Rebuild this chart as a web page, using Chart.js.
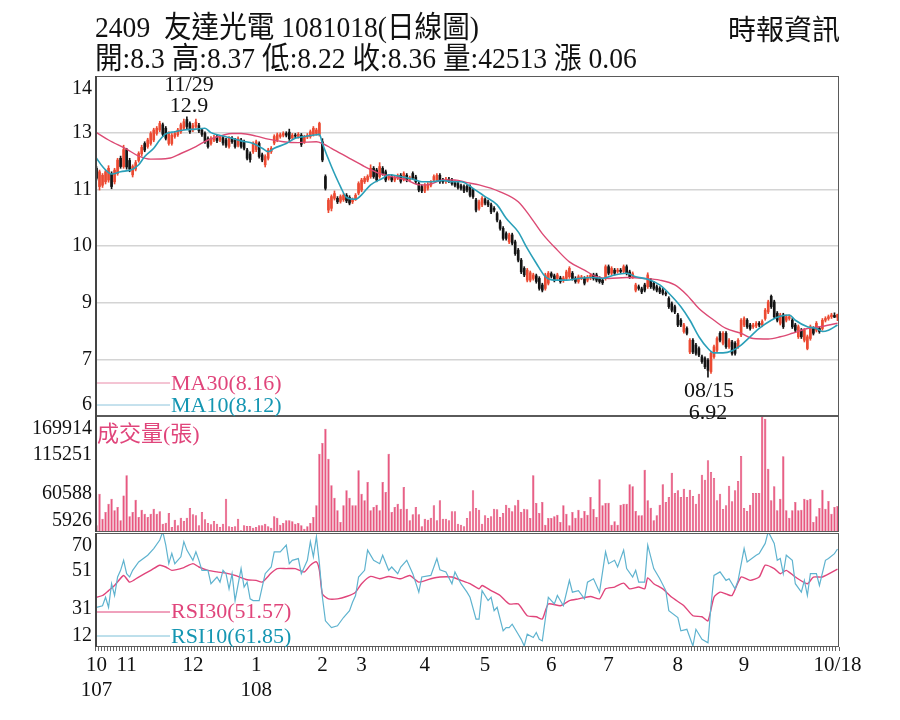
<!DOCTYPE html>
<html lang="zh-Hant">
<head>
<meta charset="UTF-8">
<script src="https://cdn.jsdelivr.net/npm/chart.js"></script>
<title>2409 友達光電 日線圖</title>
<style>
  body { margin: 0; background: #fff; }
  #page { position: relative; width: 900px; height: 720px; overflow: hidden; }
  canvas { position: absolute; left: 0; }
  #overlay { position: absolute; left: 0; top: 0; width: 900px; height: 720px; pointer-events: none; }
  #overlay text { font-family: 'Liberation Serif', 'Noto Sans CJK TC', serif; }
</style>
</head>
<body>
<div id="page">
  <canvas id="priceChart" width="900" height="340" style="top:76px;width:900px;height:340px"></canvas>
  <canvas id="volChart" width="900" height="116" style="top:416px;width:900px;height:116px"></canvas>
  <canvas id="rsiChart" width="900" height="187" style="top:533px;width:900px;height:187px"></canvas>

  <svg id="overlay" xmlns="http://www.w3.org/2000/svg" width="900" height="720">
    <g transform="translate(95,0) scale(0.92,1)">
      <text x="0" y="37" font-size="30" fill="#111" xml:space="preserve">2409  友達光電 1081018(日線圖)</text>
      <text x="0" y="68" font-size="30" fill="#111">開:8.3 高:8.37 低:8.22 收:8.36 量:42513 漲 0.06</text>
    </g>
    <text x="728" y="40" font-size="28" fill="#111">時報資訊</text>

    <text x="189" y="91" font-size="22" fill="#111" text-anchor="middle">11/29</text>
    <text x="189" y="112" font-size="22" fill="#111" text-anchor="middle">12.9</text>
    <text x="709" y="397" font-size="22" fill="#111" text-anchor="middle">08/15</text>
    <text x="708" y="419" font-size="22" fill="#111" text-anchor="middle">6.92</text>

    <line x1="97" y1="383" x2="170" y2="383" stroke="#e98aa8" stroke-width="1"/>
    <text x="171" y="390" font-size="22" fill="#e0457b">MA30(8.16)</text>
    <line x1="97" y1="405" x2="170" y2="405" stroke="#8cc4dc" stroke-width="1"/>
    <text x="171" y="412" font-size="22" fill="#1596b2">MA10(8.12)</text>

    <text x="97" y="441" font-size="22" fill="#e0457b">成交量(張)</text>

    <line x1="97" y1="612" x2="170" y2="612" stroke="#e0457b" stroke-width="1"/>
    <text x="171" y="618" font-size="22" fill="#e0457b">RSI30(51.57)</text>
    <line x1="97" y1="636" x2="170" y2="636" stroke="#7dc0d8" stroke-width="1"/>
    <text x="171" y="643" font-size="22" fill="#1596b2">RSI10(61.85)</text>
  </svg>
</div>

<script>
// trading-day calendar
const months = ['107/10','107/11','107/12','108/01','108/02','108/03','108/04','108/05','108/06','108/07','108/08','108/09','108/10'];
const monthDays = [10, 22, 21, 22, 13, 21, 20, 22, 19, 23, 22, 20, 12];
const monthTickText = ['10','11','12','1','2','3','4','5','6','7','8','9',''];
const yearTickText  = ['107','','','108','','','','','','','','',''];
const lastTickText = '10/18';

// daily OHLC
const opens = [
  11.72,11.30,11.33,11.41,11.45,11.60,11.41,11.60,11.95,11.76,
  12.15,11.90,11.57,11.70,11.90,12.05,12.29,12.22,12.29,12.37,
  12.52,12.60,12.72,12.64,12.29,12.29,12.45,12.49,12.56,12.64,
  12.84,12.75,12.60,12.68,12.70,12.60,12.52,12.40,12.29,12.37,
  12.45,12.37,12.42,12.37,12.22,12.41,12.37,12.25,12.37,12.33,
  12.14,12.05,12.10,12.15,12.29,12.03,11.80,11.95,12.10,12.30,
  12.37,12.45,12.48,12.52,12.55,12.42,12.48,12.45,12.48,12.33,
  12.44,12.45,12.50,12.52,12.50,12.33,11.53,10.76,10.80,11.03,
  11.03,10.96,11.00,11.10,11.05,10.95,11.02,11.15,11.22,11.41,
  11.45,11.53,11.72,11.68,11.53,11.72,11.64,11.49,11.53,11.45,
  11.50,11.56,11.47,11.56,11.45,11.60,11.52,11.37,11.30,11.20,
  11.26,11.33,11.45,11.45,11.56,11.45,11.41,11.47,11.45,11.39,
  11.37,11.32,11.30,11.30,11.30,11.22,10.99,10.80,10.88,11.00,
  10.95,10.88,10.80,10.68,10.49,10.34,10.22,10.03,10.19,10.03,
  9.84,9.61,9.42,9.15,9.15,9.19,9.25,9.19,9.04,8.96,
  9.08,9.30,9.25,9.19,9.20,9.14,9.19,9.23,9.31,9.19,
  9.12,9.20,9.19,9.15,9.20,9.27,9.27,9.19,9.15,9.19,
  9.46,9.31,9.38,9.35,9.38,9.35,9.46,9.34,9.23,8.92,
  9.00,8.95,9.04,9.00,9.15,9.08,9.00,8.96,8.92,8.85,
  8.73,8.61,8.54,8.35,8.23,7.97,8.04,7.50,7.77,7.66,
  7.58,7.39,7.35,7.31,7.05,7.39,7.54,7.93,7.70,7.93,
  7.62,7.73,7.70,7.62,7.89,8.12,8.23,8.12,8.08,8.10,
  8.16,8.12,8.27,8.42,8.78,8.65,8.39,8.16,8.35,8.23,
  8.27,8.23,8.12,7.85,8.00,7.77,7.58,7.81,8.04,8.00,
  8.04,8.04,8.23,8.27,8.31,8.34,8.30
];
const highs = [
  11.76,11.68,11.60,11.68,11.78,11.64,11.72,11.95,12.00,12.25,
  12.18,11.95,11.80,11.90,12.10,12.25,12.33,12.41,12.56,12.64,
  12.68,12.80,12.76,12.68,12.56,12.52,12.56,12.64,12.76,12.85,
  12.90,12.79,12.75,12.85,12.75,12.64,12.56,12.44,12.45,12.48,
  12.49,12.48,12.46,12.41,12.45,12.45,12.41,12.44,12.41,12.37,
  12.18,12.10,12.33,12.37,12.33,12.07,12.03,12.18,12.22,12.49,
  12.53,12.53,12.56,12.56,12.62,12.52,12.52,12.54,12.52,12.48,
  12.52,12.60,12.68,12.64,12.78,12.40,11.57,11.03,11.11,11.20,
  11.07,11.11,11.14,11.14,11.09,11.04,11.14,11.41,11.49,11.53,
  11.57,11.80,11.76,11.72,11.85,11.76,11.68,11.57,11.57,11.55,
  11.59,11.60,11.64,11.60,11.54,11.64,11.56,11.41,11.34,11.37,
  11.39,11.44,11.57,11.60,11.60,11.49,11.51,11.51,11.49,11.43,
  11.41,11.36,11.34,11.34,11.34,11.26,11.03,10.99,11.07,11.04,
  10.99,10.92,10.84,10.72,10.53,10.38,10.26,10.23,10.23,10.07,
  9.88,9.65,9.46,9.42,9.36,9.31,9.29,9.23,9.08,9.31,
  9.35,9.34,9.29,9.31,9.24,9.24,9.38,9.46,9.35,9.23,
  9.27,9.26,9.23,9.26,9.30,9.31,9.31,9.23,9.19,9.50,
  9.50,9.46,9.42,9.42,9.42,9.50,9.50,9.38,9.34,9.08,
  9.04,8.99,9.08,9.32,9.19,9.12,9.04,9.00,8.96,8.89,
  8.77,8.65,8.58,8.39,8.27,8.16,8.08,7.81,7.81,7.70,
  7.62,7.43,7.39,7.35,7.51,7.66,7.85,7.97,7.97,7.97,
  7.81,7.77,7.74,7.81,8.27,8.31,8.27,8.16,8.16,8.20,
  8.20,8.24,8.50,8.69,8.81,8.69,8.43,8.39,8.39,8.35,
  8.35,8.27,8.16,8.12,8.04,8.04,7.89,8.12,8.08,8.20,
  8.08,8.27,8.31,8.35,8.39,8.40,8.37
];
const lows = [
  11.45,11.22,11.28,11.36,11.40,11.25,11.36,11.56,11.72,11.72,
  11.70,11.64,11.52,11.66,11.86,12.00,12.10,12.18,12.25,12.33,
  12.48,12.56,12.45,12.37,12.25,12.25,12.41,12.45,12.52,12.60,
  12.62,12.52,12.56,12.64,12.54,12.45,12.29,12.18,12.25,12.33,
  12.31,12.33,12.25,12.20,12.18,12.29,12.18,12.21,12.18,12.14,
  11.91,11.86,12.06,12.10,11.95,11.87,11.75,11.91,12.06,12.26,
  12.33,12.41,12.44,12.44,12.36,12.38,12.42,12.41,12.22,12.29,
  12.40,12.41,12.46,12.48,12.46,11.87,11.22,10.70,10.74,10.99,
  10.91,10.92,10.96,10.93,10.88,10.91,10.98,11.11,11.18,11.37,
  11.41,11.49,11.49,11.41,11.49,11.56,11.41,11.45,11.41,11.41,
  11.46,11.38,11.43,11.41,11.41,11.46,11.37,11.18,11.16,11.16,
  11.22,11.29,11.41,11.41,11.37,11.37,11.37,11.39,11.33,11.29,
  11.24,11.22,11.16,11.18,11.06,11.03,10.72,10.76,10.84,10.88,
  10.84,10.68,10.72,10.49,10.30,10.07,10.07,9.99,9.96,9.72,
  9.57,9.30,9.23,9.11,9.11,9.15,9.08,8.92,8.88,8.92,
  9.04,9.20,9.11,9.15,9.08,9.10,9.15,9.19,9.15,9.08,
  9.08,9.16,9.04,9.11,9.16,9.15,9.11,9.08,9.05,9.15,
  9.27,9.27,9.27,9.31,9.31,9.31,9.27,9.19,9.19,8.88,
  8.92,8.84,8.88,8.96,8.96,8.92,8.88,8.84,8.81,8.79,
  8.50,8.42,8.38,8.08,8.08,7.93,7.89,7.46,7.46,7.43,
  7.39,7.24,7.12,6.92,7.01,7.35,7.50,7.73,7.66,7.58,
  7.58,7.43,7.43,7.58,7.85,8.08,8.04,8.00,8.04,8.06,
  8.08,8.08,8.23,8.38,8.50,8.27,8.19,8.12,8.04,8.19,
  8.23,8.04,7.96,7.81,7.81,7.73,7.55,7.77,7.89,7.96,
  7.93,8.00,8.19,8.23,8.27,8.29,8.22
];
const closes = [
  11.49,11.64,11.56,11.64,11.72,11.30,11.68,11.91,11.76,12.15,
  11.75,11.70,11.76,11.85,12.06,12.20,12.14,12.37,12.52,12.60,
  12.64,12.75,12.50,12.41,12.52,12.48,12.52,12.60,12.72,12.79,
  12.68,12.56,12.70,12.78,12.58,12.50,12.33,12.22,12.41,12.42,
  12.35,12.44,12.30,12.25,12.41,12.33,12.22,12.40,12.22,12.18,
  11.95,11.92,12.29,12.33,11.99,11.91,11.99,12.14,12.18,12.45,
  12.49,12.49,12.52,12.48,12.40,12.48,12.46,12.50,12.27,12.44,
  12.48,12.56,12.64,12.60,12.75,11.91,11.26,10.99,11.07,11.14,
  10.95,11.07,11.10,10.97,10.92,11.00,11.10,11.37,11.45,11.49,
  11.53,11.72,11.53,11.45,11.76,11.60,11.45,11.53,11.45,11.51,
  11.55,11.42,11.60,11.45,11.50,11.50,11.41,11.22,11.20,11.33,
  11.35,11.40,11.53,11.56,11.41,11.41,11.47,11.43,11.37,11.33,
  11.28,11.26,11.20,11.22,11.10,11.07,10.76,10.95,11.03,10.92,
  10.88,10.72,10.76,10.53,10.34,10.11,10.11,10.19,10.00,9.76,
  9.61,9.34,9.27,9.38,9.32,9.27,9.12,8.96,8.92,9.27,
  9.31,9.24,9.15,9.27,9.12,9.20,9.34,9.42,9.19,9.12,
  9.23,9.22,9.08,9.22,9.26,9.19,9.15,9.12,9.09,9.46,
  9.31,9.42,9.31,9.38,9.35,9.46,9.31,9.23,9.30,9.04,
  8.96,8.88,8.92,9.27,9.00,8.96,8.92,8.88,8.85,8.83,
  8.54,8.46,8.42,8.12,8.12,8.12,7.93,7.77,7.50,7.47,
  7.43,7.28,7.16,7.08,7.47,7.62,7.81,7.77,7.93,7.62,
  7.77,7.47,7.47,7.77,8.23,8.27,8.08,8.04,8.12,8.16,
  8.12,8.20,8.46,8.65,8.54,8.31,8.23,8.35,8.08,8.31,
  8.31,8.08,8.00,8.08,7.85,8.00,7.85,8.08,7.93,8.16,
  7.97,8.23,8.27,8.31,8.35,8.30,8.36
];

// daily volume (張)
const volumes = [
  15300,60100,24800,34200,46000,53000,36600,41300,22400,57700,
  86000,28100,34200,51600,27100,37500,31800,27100,31800,38900,
  31800,35100,17700,19100,32800,13000,23400,15300,26200,21500,
  26200,39900,30900,29500,15300,34200,23800,18600,16800,21500,
  17700,13000,17700,53000,13900,13000,13900,24800,8300,15300,
  14400,14400,12000,13000,15300,15300,17700,13900,12000,28100,
  26200,16300,18600,22400,22400,21000,17700,18600,15300,10600,
  13900,18600,27100,43600,116700,131700,152000,109600,71900,54500,
  36600,20100,43600,64800,54500,43600,43600,93100,60100,50700,
  76600,36600,41300,44600,36600,76600,62500,116700,34200,41300,
  46000,38900,69500,38900,22400,30900,41300,30900,13900,24800,
  23400,26200,43600,22400,50700,24800,24800,22400,35100,35100,
  17700,16300,13900,25700,35100,64800,39900,37500,17700,29500,
  25700,28100,38900,38000,27100,32800,44600,40300,35100,43600,
  51600,34200,38900,38000,25700,86000,46900,32800,48300,16300,
  25700,25700,28100,30400,20100,43600,31800,15300,34200,26200,
  37500,26200,35600,30400,55400,38400,27100,80400,43600,46900,
  47400,16300,21000,16300,44600,46000,46000,73300,70500,35600,
  29500,29500,94000,50700,40300,22400,29500,44600,73300,48300,
  55400,89800,61100,64800,55400,67200,55400,65800,56800,46000,
  60100,87000,79900,107200,90700,82300,50700,60100,38400,43600,
  71400,49300,64800,78000,113400,39900,35600,44600,61100,61100,
  61100,169914,166000,95500,50700,70500,36600,53000,112900,36600,
  26200,36600,48300,36600,37500,53000,51600,53000,20100,28100,
  39900,65800,38900,49700,31800,41300,42513
];

// moving averages, read at [trading day, value]
const ma10Points = [
  [0,11.95],[2,11.76],[5,11.59],[8,11.64],[12,11.70],[14,11.80],[16,11.99],[19,12.18],[21,12.37],[23,12.51],
  [26,12.56],[29,12.60],[33,12.62],[36,12.64],[38,12.54],[42,12.46],[45,12.41],[48,12.35],[52,12.29],[55,12.18],
  [57,12.10],[59,12.18],[63,12.29],[66,12.41],[69,12.45],[73,12.49],[74,12.50],[75,12.29],[78,11.76],[81,11.30],
  [83,11.05],[86,11.01],[88,11.11],[91,11.34],[95,11.49],[97,11.57],[101,11.53],[105,11.47],[108,11.41],[111,11.41],
  [115,11.44],[118,11.41],[121,11.41],[125,11.26],[129,11.07],[133,10.88],[136,10.57],[140,10.26],[143,9.88],[146,9.54],
  [149,9.23],[152,9.15],[156,9.15],[160,9.19],[165,9.21],[168,9.19],[172,9.27],[176,9.31],[179,9.23],[183,9.17],
  [187,9.04],[190,8.85],[194,8.54],[197,8.23],[200,7.85],[203,7.58],[205,7.48],[208,7.48],[211,7.53],[214,7.66],
  [217,7.85],[220,8.04],[224,8.23],[227,8.32],[230,8.35],[232,8.23],[236,8.08],[239,8.04],[241,7.97],[243,8.00],
  [246,8.12]
];
const ma30Points = [
  [0,12.54],[4,12.37],[10,12.16],[14,12.00],[18,11.93],[24,11.95],[28,12.06],[33,12.22],[37,12.37],[42,12.48],
  [45,12.52],[48,12.52],[53,12.46],[57,12.39],[62,12.33],[67,12.31],[73,12.33],[75,12.29],[78,12.18],[84,11.95],
  [89,11.76],[94,11.60],[98,11.53],[103,11.45],[107,11.34],[110,11.34],[115,11.45],[119,11.45],[123,11.39],[127,11.34],
  [134,11.18],[140,10.95],[144,10.61],[148,10.22],[153,9.84],[157,9.57],[162,9.38],[166,9.23],[170,9.19],[176,9.21],
  [182,9.19],[187,9.15],[192,9.04],[196,8.81],[200,8.50],[205,8.23],[209,8.04],[214,7.93],[218,7.81],[223,7.80],
  [227,7.85],[231,7.93],[236,8.04],[240,8.08],[246,8.16]
];

// RSI, read at [trading day, value]
const rsi10Points = [
  [0,32.2],[2,33.0],[3,37.3],[4,32.2],[5,44.2],[6,38.2],[7,47.6],[8,51.0],[9,56.1],[10,49.3],
  [11,47.6],[12,51.0],[14,55.3],[17,58.7],[19,62.1],[21,66.4],[22,70.7],[23,63.8],[24,54.4],[25,59.6],
  [26,54.4],[28,57.9],[29,65.6],[30,61.3],[32,56.1],[33,60.4],[34,56.1],[35,51.0],[37,51.0],[38,44.2],
  [40,47.6],[41,45.0],[42,51.0],[43,49.3],[44,41.6],[45,49.3],[46,35.6],[48,51.9],[49,42.5],[50,45.0],
  [51,36.5],[52,35.6],[54,35.6],[55,42.5],[56,49.3],[58,52.7],[59,60.4],[61,60.4],[63,63.8],[64,54.4],
  [65,56.1],[67,57.0],[68,49.3],[70,56.1],[71,65.6],[72,57.9],[73,68.1],[74,54.4],[75,37.3],[76,25.3],
  [78,21.9],[80,22.8],[82,27.0],[84,30.5],[85,34.8],[86,38.2],[87,47.6],[89,51.0],[90,61.3],[92,56.1],
  [94,54.4],[95,58.7],[97,51.0],[98,52.7],[100,49.3],[101,52.7],[103,56.1],[105,49.3],[107,39.9],[108,47.6],
  [111,48.4],[113,57.0],[114,51.3],[116,50.2],[118,44.2],[119,50.2],[121,44.2],[123,39.9],[124,37.3],[126,26.2],
  [127,26.2],[128,40.7],[130,35.6],[131,37.3],[132,30.5],[133,32.2],[135,20.2],[136,21.9],[137,21.9],[138,23.6],
  [140,18.5],[141,15.9],[142,12.5],[143,18.5],[145,16.8],[146,19.4],[147,15.9],[148,15.1],[150,37.3],[152,33.9],
  [153,38.2],[155,33.0],[157,45.9],[158,39.9],[160,40.7],[162,36.5],[163,45.0],[165,46.7],[167,39.9],[169,60.4],
  [170,54.4],[172,56.1],[173,52.7],[175,61.3],[176,51.9],[178,47.6],[179,51.0],[180,45.0],[182,45.0],[183,63.8],
  [185,51.9],[187,46.7],[189,40.7],[190,30.5],[193,27.0],[194,20.2],[196,21.0],[198,12.5],[199,21.0],[201,15.9],
  [203,14.2],[204,33.0],[205,48.4],[207,50.2],[209,45.9],[210,46.7],[212,41.6],[213,45.9],[215,62.1],[216,55.3],
  [219,58.7],[220,59.6],[222,64.7],[223,70.7],[225,64.7],[226,56.1],[227,57.0],[228,49.3],[229,58.7],[231,56.1],
  [232,44.2],[234,39.9],[235,45.9],[236,38.2],[237,49.3],[239,49.3],[240,43.3],[242,56.1],[243,57.0],[245,59.5],
  [246,61.85]
];
const rsi30Points = [
  [0,37.3],[2,38.2],[4,40.7],[6,43.3],[9,48.4],[11,45.0],[14,47.6],[18,51.0],[21,53.6],[23,52.7],
  [25,51.0],[29,52.4],[32,54.4],[34,52.7],[37,51.0],[40,50.2],[43,49.6],[46,48.4],[50,46.2],[53,45.9],
  [55,45.0],[58,49.6],[60,51.9],[63,51.9],[66,51.9],[69,50.2],[71,53.6],[73,55.3],[74,51.0],[75,39.0],
  [77,36.5],[80,36.5],[83,37.7],[86,39.9],[88,44.2],[91,47.9],[94,46.7],[97,47.9],[101,46.7],[104,48.4],
  [107,45.0],[111,46.7],[114,47.6],[118,47.6],[121,45.9],[124,44.2],[127,41.6],[128,43.3],[131,40.7],[134,38.2],
  [137,33.9],[140,33.9],[143,27.9],[146,27.4],[148,26.2],[150,33.9],[154,33.0],[157,35.6],[160,36.5],[164,37.7],
  [167,36.5],[169,41.6],[172,42.5],[175,44.5],[177,41.6],[180,42.5],[182,41.6],[183,47.2],[185,44.2],[188,41.6],
  [191,37.3],[195,33.0],[198,27.9],[201,27.4],[203,25.3],[205,37.3],[207,39.9],[209,39.0],[211,38.2],[214,47.6],
  [217,45.9],[220,47.6],[222,53.6],[225,51.9],[227,49.3],[229,51.0],[232,47.6],[236,44.2],[238,47.6],[241,47.6],
  [246,51.57]
];

// axis ranges and tick labels
const priceMin = 6.03, priceMax = 13.84;
const priceTickLabels = ['6','7','9','10','11','13','14'];
const volMin = 5926, volMax = 169914;
const volTickLabels = ['5926','60588','115251','169914'];
const rsiMin = 12, rsiMax = 70;
const rsiTickLabels = ['12','31','51','70'];

// ---- layout ----
const LEFT = 95, RIGHT_PAD = 61;
const PRICE_H = 340, VOL_H = 116, RSI_H = 114, XAXIS_H = 73;
const EDGE_TOP = 13, EDGE_BOTTOM = 11;
const SERIF = "'Liberation Serif', 'Times New Roman', serif";
const UP = '#ec4a32', DOWN = '#141414';

const dates = [];
months.forEach((m, k) => { for (let j = 1; j <= monthDays[k]; j++) dates.push(m + '-' + j); });

const xTickText = {};
let first = 0;
months.forEach((m, k) => {
  if (monthTickText[k]) {
    xTickText[first] = yearTickText[k] ? [monthTickText[k], yearTickText[k]] : monthTickText[k];
  }
  first += monthDays[k];
});
xTickText[dates.length - 1] = lastTickText;

const toXY = pts => pts.map(p => ({ x: dates[p[0]], y: p[1] }));

// panel frame, with a heavier left axis line
const frame = {
  id: 'frame',
  afterDraw(chart) {
    const { ctx, chartArea: a } = chart;
    const l = Math.round(a.left), t = Math.round(a.top), r = Math.round(a.right), b = Math.round(a.bottom);
    ctx.save();
    ctx.strokeStyle = '#5a5a5a';
    ctx.lineWidth = 1;
    ctx.strokeRect(l + 0.5, t + 0.5, r - l - 1, b - t - 1);
    ctx.strokeStyle = '#444';
    ctx.lineWidth = 2;
    ctx.beginPath();
    ctx.moveTo(l + 1, t);
    ctx.lineTo(l + 1, b);
    ctx.stroke();
    ctx.restore();
  }
};

function yAxis(min, max, labels, plotH, withGrid) {
  return {
    min: min, max: max, bounds: 'data',
    afterFit: s => { s.width = LEFT; s.paddingTop = 0; s.paddingBottom = 0; },
    afterBuildTicks: s => {
      const n = labels.length, span = max - min, perPx = span / plotH;
      s.ticks = labels.map((_, i) => {
        let v = min + span * i / (n - 1);
        if (i === 0) v += EDGE_BOTTOM * perPx;
        if (i === n - 1) v -= EDGE_TOP * perPx;
        return { value: v };
      });
    },
    ticks: { callback: (v, i) => labels[i], font: { family: SERIF, size: 20 }, color: '#111', padding: 3 },
    grid: {
      drawTicks: false,
      lineWidth: 1.5,
      color: c => (withGrid && c.index > 0 && c.index < labels.length - 1) ? '#d4d4d4' : 'rgba(0,0,0,0)'
    },
    border: { display: false }
  };
}

function hiddenX() {
  return { type: 'category', offset: true, display: false, grid: { offset: true } };
}

const common = {
  responsive: false,
  animation: false,
  devicePixelRatio: 1,
  events: [],
  layout: { padding: { left: 0, right: RIGHT_PAD, top: 0, bottom: 0 } },
  plugins: { legend: { display: false }, tooltip: { enabled: false } }
};

// price panel: candles + MA lines
const candleColors = closes.map((c, i) => c >= opens[i] ? UP : DOWN);
new Chart(document.getElementById('priceChart'), {
  type: 'bar',
  data: {
    labels: dates,
    datasets: [
      { type: 'line', data: toXY(ma10Points), borderColor: '#2a9fb8', borderWidth: 1.6,
        pointRadius: 0, cubicInterpolationMode: 'monotone', order: 0 },
      { type: 'line', data: toXY(ma30Points), borderColor: '#dc4a74', borderWidth: 1.4,
        pointRadius: 0, cubicInterpolationMode: 'monotone', order: 0 },
      { data: opens.map((o, i) => [o, closes[i]]), backgroundColor: candleColors,
        barThickness: 2, minBarLength: 1, grouped: false, order: 1 },
      { data: lows.map((l, i) => [l, highs[i]]), backgroundColor: candleColors,
        barThickness: 1, grouped: false, order: 2 }
    ]
  },
  options: Object.assign({}, common, {
    scales: { x: hiddenX(), y: yAxis(priceMin, priceMax, priceTickLabels, PRICE_H, true) }
  }),
  plugins: [frame]
});

// volume panel
new Chart(document.getElementById('volChart'), {
  type: 'bar',
  data: {
    labels: dates,
    datasets: [{ data: volumes, backgroundColor: '#e9577f', borderColor: '#d63d6b', borderWidth: 0.5,
                 barPercentage: 0.78, categoryPercentage: 1 }]
  },
  options: Object.assign({}, common, {
    scales: { x: hiddenX(), y: yAxis(volMin, volMax, volTickLabels, VOL_H, false) }
  }),
  plugins: [frame]
});

// RSI panel with the date axis
new Chart(document.getElementById('rsiChart'), {
  type: 'line',
  data: {
    labels: dates,
    datasets: [
      { data: toXY(rsi10Points), borderColor: '#5fb3cf', borderWidth: 1.2, pointRadius: 0, tension: 0 },
      { data: toXY(rsi30Points), borderColor: '#e0457b', borderWidth: 1.4, pointRadius: 0, tension: 0.2 }
    ]
  },
  options: Object.assign({}, common, {
    scales: {
      x: {
        type: 'category', offset: true,
        afterFit: s => { s.height = XAXIS_H; s.paddingLeft = 0; s.paddingRight = 0; },
        grid: { offset: true, drawOnChartArea: false, drawTicks: true, tickLength: 4, tickColor: '#666', lineWidth: 1 },
        border: { display: false },
        ticks: {
          autoSkip: false, maxRotation: 0, minRotation: 0, padding: 2,
          font: { family: SERIF, size: 21 }, color: '#111',
          callback: (v, i) => xTickText[i] !== undefined ? xTickText[i] : ''
        }
      },
      y: yAxis(rsiMin, rsiMax, rsiTickLabels, RSI_H, false)
    }
  }),
  plugins: [frame]
});
</script>
</body>
</html>
